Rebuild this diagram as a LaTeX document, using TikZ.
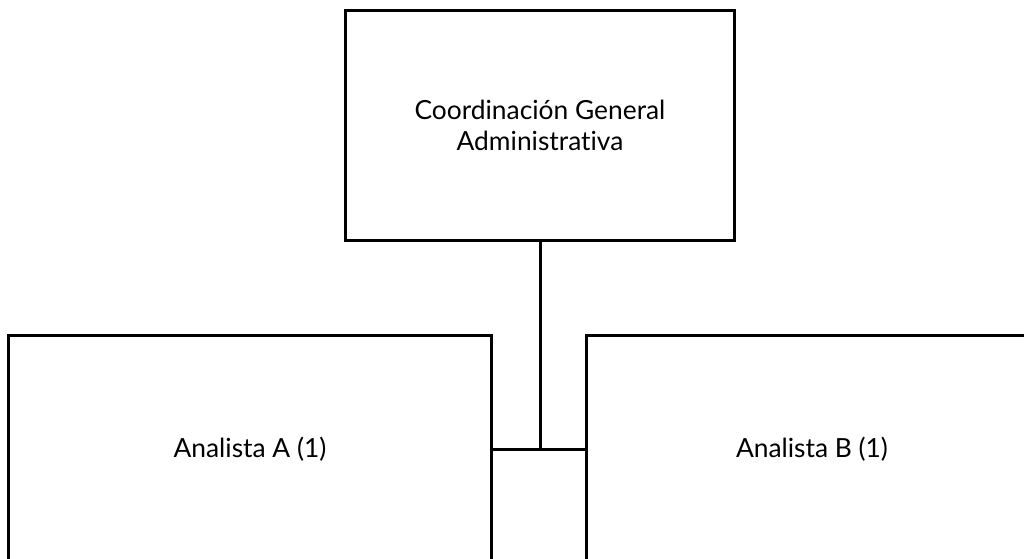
\documentclass[tikz,border=0pt]{standalone}
\usepackage{fontspec}
\setmainfont[Ligatures={NoCommon,NoRare}]{Lato}
\usetikzlibrary{positioning}

\tikzset{
  unidad/.style={draw, line width=1.7pt, rectangle, align=center,
    font=\fontsize{15}{17.6}\selectfont, inner sep=0pt},
  enlace/.style={line width=1.7pt},
}

\begin{document}
\begin{tikzpicture}[x=0.02cm, y=-0.02cm]
  \useasboundingbox (0,0) rectangle (1024,558);
  \clip (0,0) rectangle (1024,558);

  % jefatura
  \node[unidad, minimum width=7.78cm, minimum height=4.62cm]
    (coord) at (540,125.5) {Coordinación General\\Administrativa};

  % analistas
  \node[unidad, minimum width=9.68cm, minimum height=4.56cm]
    (anaA) at (250,449) {Analista A (1)};
  \node[unidad, minimum width=9.04cm, minimum height=4.56cm]
    (anaB) at (812,449) {Analista B (1)};

  \draw[enlace] (anaA.east) -- (anaB.west);
  \draw[enlace] (coord.south) -- (coord.south |- anaA.east);
\end{tikzpicture}
\end{document}
